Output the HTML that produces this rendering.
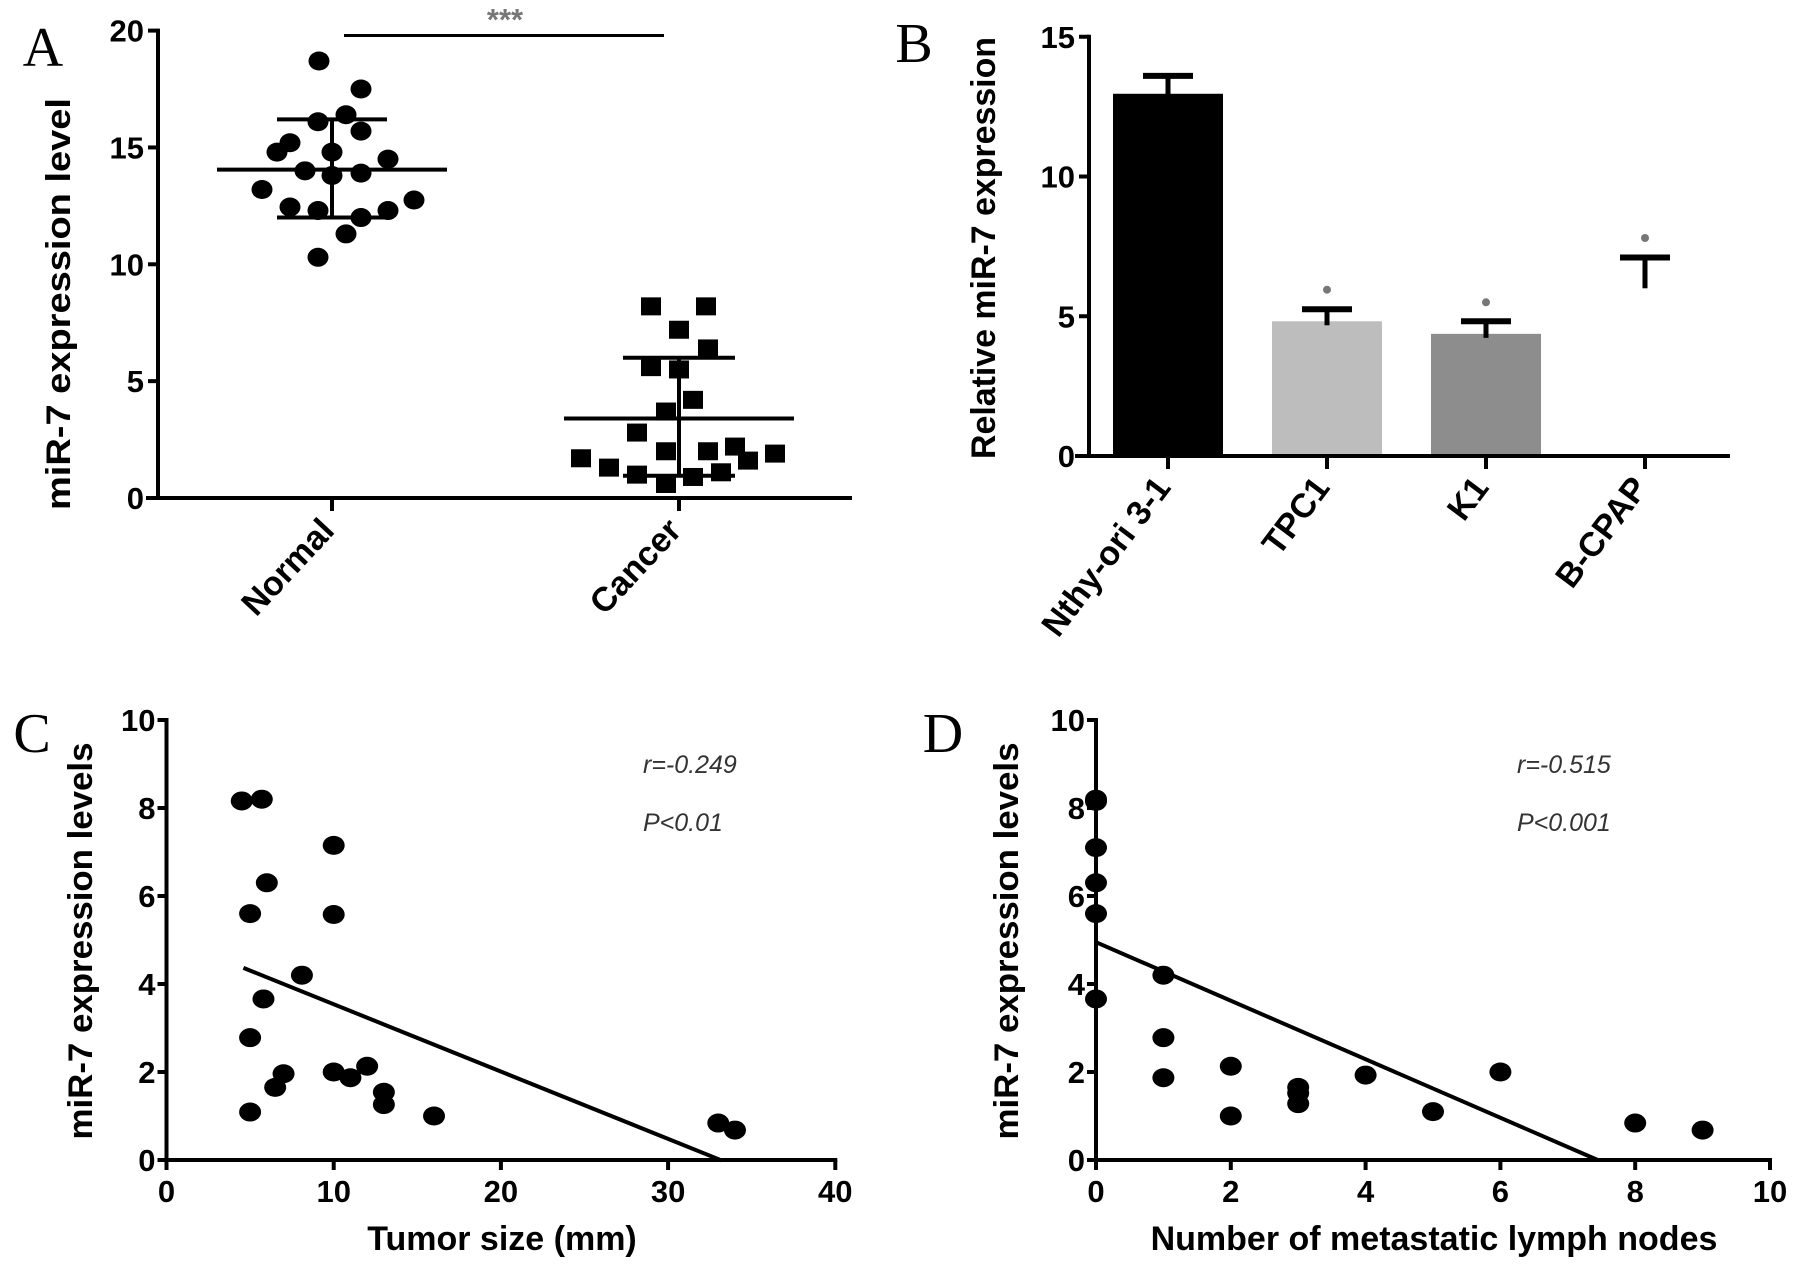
<!DOCTYPE html>
<html><head><meta charset="utf-8">
<style>
html,body{margin:0;padding:0;background:#fff;}
svg{display:block;}
text{font-family:"Liberation Sans",Arial,sans-serif;}
.tick{font-weight:bold;font-size:31px;}
.lab{font-weight:bold;font-size:34px;}
.letter{font-family:"Liberation Serif",serif;font-size:56px;}
.stat{font-style:italic;font-size:25px;fill:#333;}
</style></head>
<body>
<svg id="fig" width="1795" height="1285" viewBox="0 0 1795 1285" xmlns="http://www.w3.org/2000/svg">
<g id="pA"></g>
<g id="pB"></g>
<g id="pC"></g>
<g id="pD"></g>
</svg>
<script>
// ---- Panel A data ----
const aCategories = ["Normal", "Cancer"];
const aNormal = [18.7,17.5,16.4,16.1,15.7,15.2,14.8,14.8,14.5,14.0,13.9,13.8,13.2,12.75,12.45,12.3,12.3,12.0,11.3,10.3];
const aNormalJitter = [-13,29,14,-14,29,-42,-55,0,56,-27,29,0,-70,82,-42,-14,56,29,14,-14];
const aCancer = [8.2,8.2,7.2,6.4,5.6,5.5,4.2,3.7,2.8,2.0,2.0,2.2,1.9,1.7,1.6,1.3,1.0,1.1,0.9,0.6];
const aCancerJitter = [-28,27,0,29,-28,0,14,-13,-42,-13,29,56,96,-98,69,-70,-42,42,14,-13];
const aMean = [14.05, 3.4];
const aSdHi = [16.2, 6.0];
const aSdLo = [12.0, 0.95];
const aTicks = [0,5,10,15,20];
// ---- Panel B data ----
const bCategories = ["Nthy-ori 3-1","TPC1","K1","B-CPAP"];
const bValues = [12.96, 4.82, 4.37, 6.0];
const bErr = [13.6, 5.25, 4.82, 7.1];
const bStars = [null, 5.95, 5.5, 7.8];
const bTicks = [0,5,10,15];
// ---- Panel C data ----
const cX = [4.5,5.7,10,6,5,10,8.1,5.8,5,7,6.5,10,11,12,13,13,16,5,33,34];
const cY = [8.16,8.2,7.15,6.3,5.6,5.58,4.2,3.66,2.78,1.96,1.65,2.0,1.87,2.13,1.54,1.26,1.0,1.09,0.84,0.68];
const cFit = [5.07, -0.153, 4.6, 33.2]; // intercept, slope, xmin, xmax
const cXTicks = [0,10,20,30,40];
const cYTicks = [0,2,4,6,8,10];
// ---- Panel D data ----
const dX = [0,0,0,0,0,0,1,1,1,2,2,3,3,3,4,5,6,8,9];
const dY = [8.2,8.15,7.1,6.3,5.6,3.66,4.2,2.78,1.87,2.13,1.0,1.65,1.52,1.28,1.93,1.1,2.0,0.84,0.68];
const dFit = [4.95, -0.665, 0, 7.44];
const dXTicks = [0,2,4,6,8,10];
const dYTicks = [0,2,4,6,8,10];

const NS="http://www.w3.org/2000/svg";
function mk(parent, tag, attrs, txt){
  const e=document.createElementNS(NS,tag);
  for(const k in attrs) e.setAttribute(k,attrs[k]);
  if(txt!==undefined) e.textContent=txt;
  parent.appendChild(e); return e;
}
function line(p,x1,y1,x2,y2,w,name){
  const l=mk(p,'line',{x1:x1,y1:y1,x2:x2,y2:y2,stroke:'#000','stroke-width':w||4});
  
  
  return l;
}
function txt(p,x,y,s,cls,extra,name){
  const t=mk(p,'text',Object.assign({x:x,y:y,class:cls},extra||{}),s);
  
  
  return t;
}

// ===== Panel A =====
(function(){
  const g=document.getElementById('pA');
  const x0=158, y0=498, perU=23.37;
  const ya=v=>y0-v*perU;
  const cx=[332,679];
  line(g,x0,ya(20)-2,x0,y0+2,4,'y-axis');
  line(g,146,y0,852,y0,4,'x-axis');
  aTicks.forEach(t=>{
    line(g,x0-10,ya(t),x0,ya(t),4,'y-tick');
    txt(g,x0-14,ya(t)+11,String(t),'tick',{'text-anchor':'end','font-size':'32'},'y-tick-label');
  });
  cx.forEach((c,i)=>{
    line(g,c,y0,c,y0+13,4,'x-tick');
    txt(g,c+4,y0+34,aCategories[i],'lab',{'text-anchor':'end',transform:`rotate(-47 ${c+4} ${y0+34})`,'font-size':'31'},'x-tick-label');
  });
  txt(g,0,0,'miR-7 expression level','lab',{'text-anchor':'middle',transform:`translate(70 304) rotate(-90)`,textLength:412,lengthAdjust:'spacingAndGlyphs'},'y-axis-title');
  txt(g,43,66,'A','letter',{'text-anchor':'middle'},'panel-letter-a');
  line(g,344,35.5,664,35.5,3,'significance-bar');
  txt(g,505,30,'***','tick',{'text-anchor':'middle','font-size':'22',fill:'#777'},'significance-stars');
  aNormal.forEach((v,i)=>{
    const e=mk(g,'ellipse',{cx:cx[0]+aNormalJitter[i],cy:ya(v),rx:10.5,ry:9.5,fill:'#000'});
    
    
  });
  aCancer.forEach((v,i)=>{
    const r=mk(g,'rect',{x:cx[1]+aCancerJitter[i]-10,y:ya(v)-9,width:20,height:18,fill:'#000'});
    
    
  });
  const halfMean=[115,115], halfSd=[55,56];
  cx.forEach((c,i)=>{
    line(g,c-halfMean[i],ya(aMean[i]),c+halfMean[i],ya(aMean[i]),4,'mean-line');
    line(g,c-halfSd[i],ya(aSdHi[i]),c+halfSd[i],ya(aSdHi[i]),4,'sd-cap-upper');
    line(g,c-halfSd[i],ya(aSdLo[i]),c+halfSd[i],ya(aSdLo[i]),4,'sd-cap-lower');
    line(g,c,ya(aSdHi[i]),c,ya(aSdLo[i]),4,'sd-whisker');
  });
})();

// ===== Panel B =====
(function(){
  const g=document.getElementById('pB');
  const x0=1089, y0=456, perU=27.95;
  const yb=v=>y0-v*perU;
  const cx=[1168,1327,1486,1645];
  const colors=['#000','#bdbdbd','#8d8d8d','#fff'];
  const bw=110;
  bValues.forEach((v,i)=>{
    const r=mk(g,'rect',{x:cx[i]-bw/2,y:yb(v),width:bw,height:v*perU,fill:colors[i]});
    
    
    line(g,cx[i],yb(bErr[i]),cx[i],yb(v)+(i===3?0:4),5,'error-whisker');
    line(g,cx[i]-25,yb(bErr[i]),cx[i]+25,yb(bErr[i]),6,'error-cap');
    if(bStars[i]!==null){
      const s=mk(g,'circle',{cx:cx[i],cy:yb(bStars[i]),r:4,fill:'#777'});
      
      
    }
  });
  line(g,x0,yb(15)-2,x0,y0+2,4,'y-axis');
  line(g,1075,y0,1730,y0,4,'x-axis');
  bTicks.forEach(t=>{
    line(g,x0-10,yb(t),x0,yb(t),4,'y-tick');
    txt(g,x0-14,yb(t)+11,String(t),'tick',{'text-anchor':'end','font-size':'32'},'y-tick-label');
  });
  cx.forEach((c,i)=>{
    line(g,c,y0,c,y0+13,4,'x-tick');
    txt(g,c+4,y0+32,bCategories[i],'lab',{'text-anchor':'end',transform:`rotate(-53 ${c+4} ${y0+32})`,'font-size':'29'},'x-tick-label');
  });
  txt(g,0,0,'Relative miR-7 expression','lab',{'text-anchor':'middle',transform:`translate(995 248) rotate(-90)`,textLength:422,lengthAdjust:'spacingAndGlyphs','font-size':'31'},'y-axis-title');
  txt(g,914,62,'B','letter',{'text-anchor':'middle'},'panel-letter-b');
})();

// ===== Scatter panels =====
function scatter(id, X, Y, fit, xT, yT, o){
  const g=document.getElementById(id);
  const sx=v=>o.x0+(v-xT[0])*o.px;
  const sy=v=>o.y0-v*o.py;
  line(g,o.x0,sy(10)-2,o.x0,o.y0+2,4,'y-axis');
  line(g,o.x0-2,o.y0,sx(xT[xT.length-1])+2,o.y0,4,'x-axis');
  yT.forEach(t=>{
    line(g,o.x0-9,sy(t),o.x0,sy(t),4,'y-tick');
    txt(g,o.x0-11,sy(t)+11,String(t),'tick',{'text-anchor':'end','font-size':'31'},'y-tick-label');
  });
  xT.forEach(t=>{
    line(g,sx(t),o.y0,sx(t),o.y0+10,4,'x-tick');
    txt(g,sx(t),o.y0+42,String(t),'tick',{'text-anchor':'middle','font-size':'31'},'x-tick-label');
  });
  X.forEach((xv,i)=>{
    const e=mk(g,'ellipse',{cx:sx(xv),cy:sy(Y[i]),rx:11,ry:9.5,fill:'#000'});
    
    
  });
  const f=x=>fit[0]+fit[1]*x;
  line(g,sx(fit[2]),sy(f(fit[2])),sx(fit[3]),sy(f(fit[3])),4,'regression-line');
  txt(g,o.xl,o.y0+90,o.xlabel,'lab',{'text-anchor':'middle','font-size':'34'},'x-axis-title');
  txt(g,0,0,'miR-7 expression levels','lab',{'text-anchor':'middle',transform:`translate(${o.ylx} 941) rotate(-90)`,textLength:397,lengthAdjust:'spacingAndGlyphs','font-size':'33'},'y-axis-title');
  txt(g,o.lx,752,o.letter,'letter',{'text-anchor':'middle'},'panel-letter-'+o.letter.toLowerCase());
  txt(g,o.sx,773,o.r,'stat',{},'correlation-r');
  txt(g,o.sx,831,o.p,'stat',{},'p-value');
}
scatter('pC',cX,cY,cFit,cXTicks,cYTicks,{x0:166.5,y0:1160,px:16.72,py:44,xl:502,xlabel:'Tumor size (mm)',ylx:92,lx:32,letter:'C',sx:643,r:'r=-0.249',p:'P<0.01'});
scatter('pD',dX,dY,dFit,dXTicks,dYTicks,{x0:1096,y0:1160,px:67.4,py:44,xl:1434,xlabel:'Number of metastatic lymph nodes',ylx:1018,lx:943,letter:'D',sx:1517,r:'r=-0.515',p:'P<0.001'});
</script>
</body></html>
